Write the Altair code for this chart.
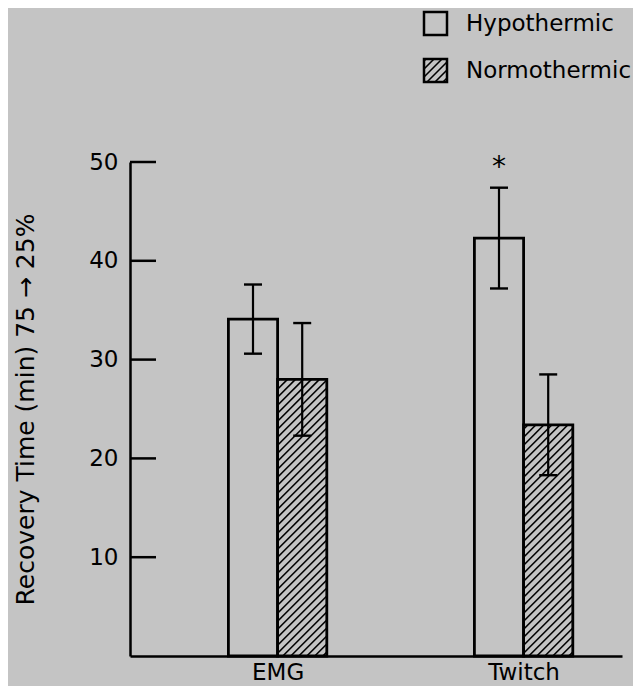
import json
import altair as alt
import pandas as pd

# ---------------- data ----------------
groups = ["EMG", "Twitch"]
series = ["Hypothermic", "Normothermic"]
hypo_mean = [34.1, 42.3]
hypo_err = [3.5, 5.1]
normo_mean = [28.0, 23.4]
normo_err = [5.7, 5.1]
hypo_marks = ["", "*"]
y_ticks = [10, 20, 30, 40, 50]
y_title = "Recovery Time (min) 75  \u2192  25%"

# ---------------- layout constants ----------------
W, H = 492, 494
X_MAX, Y_MAX = 10.0, 50.0
GROUP_X0, GROUP_STEP, BAR_W = 3.0, 5.0, 1.0
PX_X = W / X_MAX
PX_Y = H / Y_MAX
HATCH_GAP_PX = 8.0
CAP_HALF = 9.0 / PX_X
BG = "#c4c4c4"
FONT = "DejaVu Sans"

# legend placement (data units; drawn outside the plot area)
LEG_X0 = 294.0 / PX_X
LEG_SIDE_X = 23.0 / PX_X
LEG_SIDE_Y = 23.0 / PX_Y
LEG_TOPS = [(656 - 12) / PX_Y, (656 - 59) / PX_Y]
LEG_TEXT_X = 336.0 / PX_X

# ---------------- derived tables ----------------
rows = []
for i, g in enumerate(groups):
    c = GROUP_X0 + i * GROUP_STEP
    for s, means, errs, off, mk in [
        (series[0], hypo_mean, hypo_err, -1, hypo_marks[i]),
        (series[1], normo_mean, normo_err, 0, ""),
    ]:
        x0 = c + off * BAR_W
        rows.append(dict(group=g, series=s, x0=x0, x1=x0 + BAR_W, xc=x0 + BAR_W / 2,
                         y0=0.0, y1=means[i], lo=means[i] - errs[i], hi=means[i] + errs[i],
                         cl=x0 + BAR_W / 2 - CAP_HALF, cr=x0 + BAR_W / 2 + CAP_HALF, mark=mk))
bars = pd.DataFrame(rows)

leg_rows = []
for j, s in enumerate(series):
    leg_rows.append(dict(series=s, x0=LEG_X0, x1=LEG_X0 + LEG_SIDE_X,
                         y0=LEG_TOPS[j] - LEG_SIDE_Y, y1=LEG_TOPS[j],
                         tx=LEG_TEXT_X, ty=LEG_TOPS[j] - LEG_SIDE_Y / 2))
legend = pd.DataFrame(leg_rows)


def hatch(rects):
    out = []
    slope = PX_X / PX_Y
    gap = HATCH_GAP_PX / PX_Y
    for r in rects:
        w = r["x1"] - r["x0"]
        rise = slope * w
        b = r["y0"] - rise + gap * 0.5
        while b < r["y1"]:
            t_lo = max(0.0, (r["y0"] - b) / rise)
            t_hi = min(1.0, (r["y1"] - b) / rise)
            if t_hi > t_lo:
                out.append(dict(hx=r["x0"] + t_lo * w, hy=b + t_lo * rise,
                                hx2=r["x0"] + t_hi * w, hy2=b + t_hi * rise))
            b += gap
    return pd.DataFrame(out)


hatched = [r for r in bars.to_dict("records") if r["series"] == series[1]]
hatched += [r for r in legend.to_dict("records") if r["series"] == series[1]]
hatch_df = hatch(hatched)

# ---------------- scales & axes ----------------
xs = alt.Scale(domain=[0, X_MAX], nice=False, zero=False)
ys = alt.Scale(domain=[0, Y_MAX], nice=False, zero=False)

label_expr = f"{json.dumps(groups)}[round((datum.value - {GROUP_X0}) / {GROUP_STEP})]"

x_axis = alt.Axis(values=[GROUP_X0 + i * GROUP_STEP for i in range(len(groups))],
                  labelExpr=label_expr, ticks=False, grid=False, title="",
                  domainColor="black", domainWidth=2.5, labelColor="black",
                  labelFont=FONT, labelFontSize=23, labelPadding=5)
y_axis = alt.Axis(values=y_ticks, ticks=False, grid=False, title=y_title,
                  domainColor="black", domainWidth=2.5, labelColor="black",
                  labelFont=FONT, labelFontSize=23, labelPadding=12,
                  titleFont=FONT, titleFontSize=25, titleFontWeight="normal",
                  titleColor="black", titlePadding=50)


def X(f):
    return alt.X(f, type="quantitative", scale=xs, axis=x_axis)


def Y(f):
    return alt.Y(f, type="quantitative", scale=ys, axis=y_axis)


base = alt.Chart(bars)

bar_layer = base.mark_rect(fill=BG, fillOpacity=0, stroke="black", strokeWidth=2.8).encode(
    x=X("x0"), x2="x1", y=Y("y0"), y2="y1")

hatch_layer = alt.Chart(hatch_df).mark_rule(color="black", strokeWidth=1.6).encode(
    x=X("hx"), x2="hx2", y=Y("hy"), y2="hy2")

err_layer = base.mark_rule(color="black", strokeWidth=2.2).encode(
    x=X("xc"), y=Y("lo"), y2="hi")

cap_layer = base.transform_fold(["lo", "hi"], as_=["end", "val"]).mark_rule(
    color="black", strokeWidth=2.4).encode(
    x=X("cl"), x2="cr", y=Y("val"))

tick_layer = alt.Chart(pd.DataFrame({"v": y_ticks})).mark_rule(
    color="black", strokeWidth=2.5).encode(
    x=alt.value(0), x2=alt.value(26), y=Y("v"))

star_layer = base.transform_filter(alt.datum.mark != "").mark_text(
    font=FONT, fontSize=28, baseline="alphabetic", dy=-12, color="black").encode(
    x=X("xc"), y=Y("hi"), text="mark:N")

leg_box = alt.Chart(legend).mark_rect(fillOpacity=0, stroke="black", strokeWidth=2.5).encode(
    x=X("x0"), x2="x1", y=Y("y0"), y2="y1")

leg_text = alt.Chart(legend).mark_text(
    font=FONT, fontSize=23, align="left", baseline="middle", color="black").encode(
    x=X("tx"), y=Y("ty"), text="series:N")

chart = alt.layer(
    bar_layer, hatch_layer, err_layer, cap_layer, tick_layer, star_layer, leg_box, leg_text
).properties(
    width=W, height=H,
    autosize=alt.AutoSizeParams(type="none"),
    padding={"left": 122, "top": 154, "right": 11, "bottom": 30},
    background=BG,
).configure_view(stroke=None)

chart.save("out.html", embed_options={"renderer": "svg", "actions": False})
